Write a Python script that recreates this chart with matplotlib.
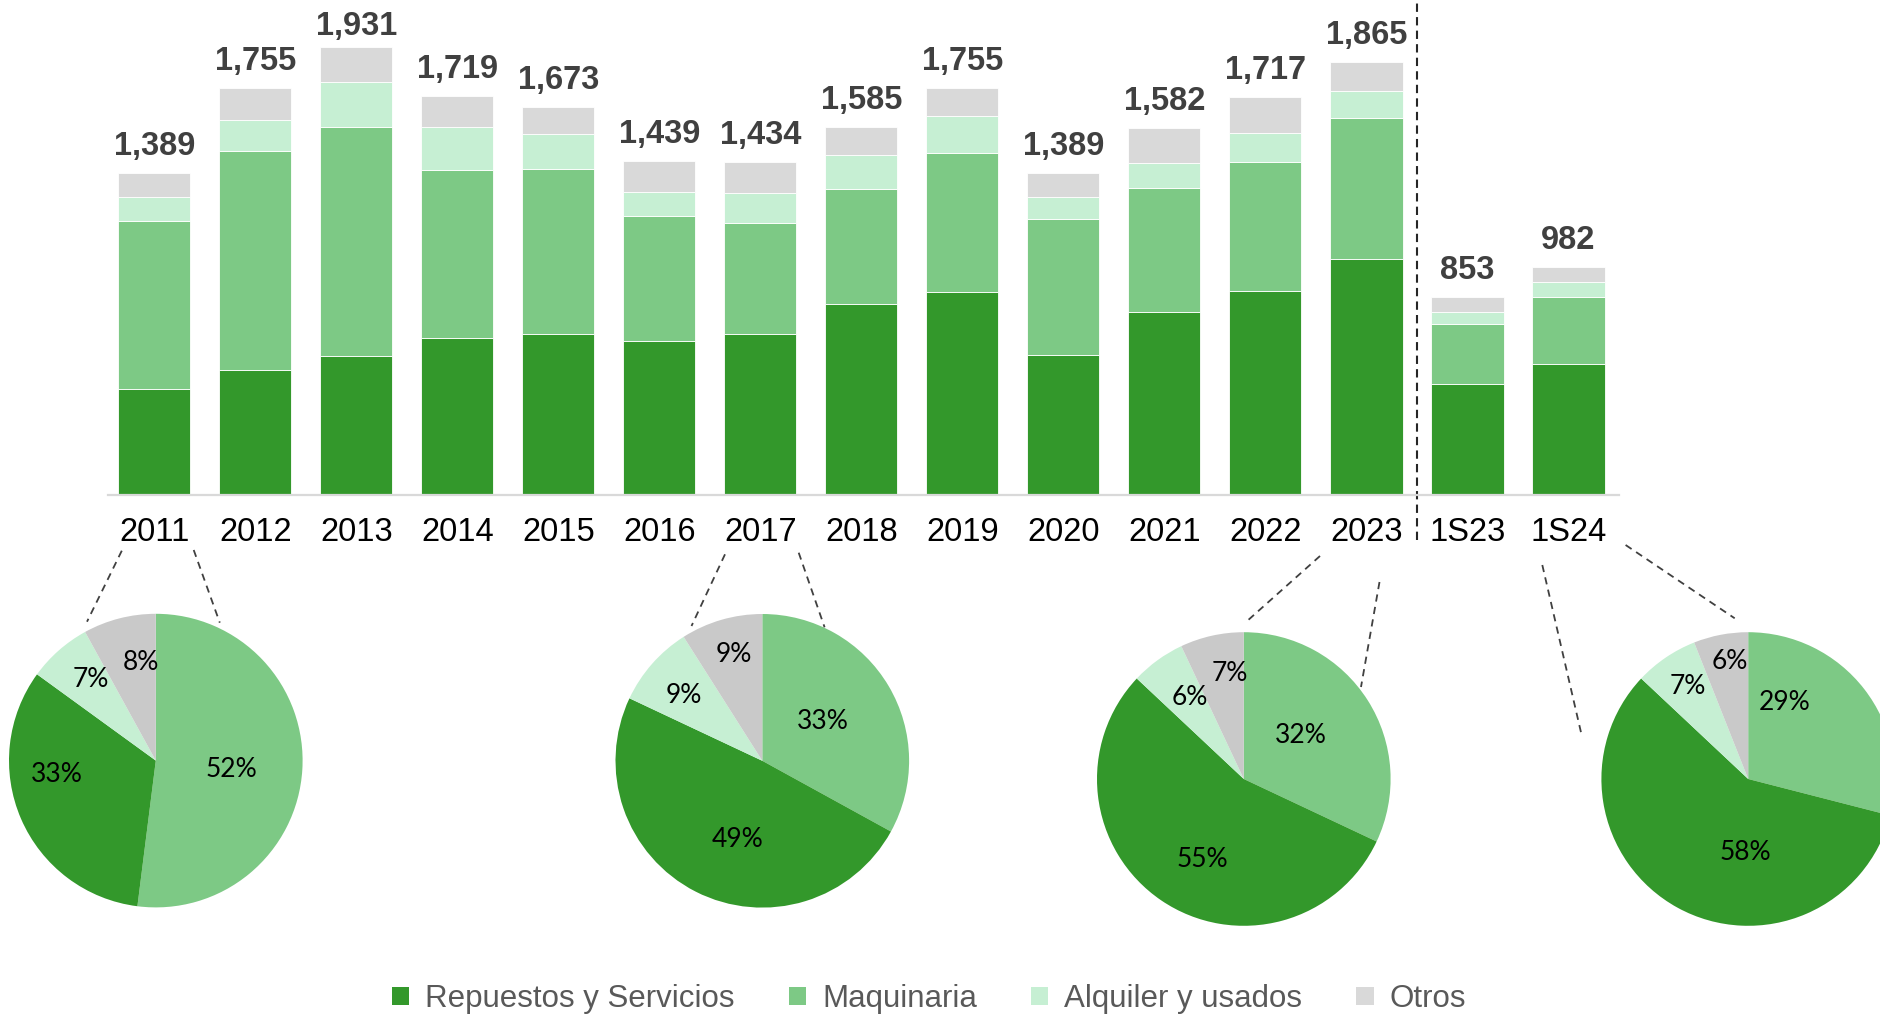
import matplotlib
matplotlib.use("Agg")
import matplotlib.pyplot as plt
from matplotlib.patches import Patch
from matplotlib.lines import Line2D
import numpy as np

# ---------------- data ----------------
categories = ['2011', '2012', '2013', '2014', '2015', '2016', '2017', '2018',
              '2019', '2020', '2021', '2022', '2023', '1S23', '1S24']
repuestos = [455, 538, 598, 678, 692, 666, 696, 825, 877, 602, 787, 881, 1018, 480, 566]
maquinaria = [726, 946, 988, 721, 715, 535, 477, 496, 598, 586, 535, 556, 608, 258, 287]
alquiler = [103, 133, 194, 188, 150, 107, 130, 145, 158, 98, 111, 123, 116, 52, 66]
otros = [105, 138, 151, 132, 116, 131, 131, 119, 122, 103, 149, 157, 123, 63, 63]
totals = [1389, 1755, 1931, 1719, 1673, 1439, 1434, 1585, 1755, 1389, 1582, 1717, 1865, 853, 982]

series_names = ['Repuestos y Servicios', 'Maquinaria', 'Alquiler y usados', 'Otros']

pie_periods = ['2011', '2017', '2023', '1S24']
# shares in pie order: Maquinaria, Repuestos, Alquiler, Otros
pie_maquinaria = [52, 33, 32, 29]
pie_repuestos = [33, 49, 55, 58]
pie_alquiler = [7, 9, 6, 7]
pie_otros = [8, 9, 7, 6]

# ---------------- style / layout ----------------
C_REP = '#33982B'
C_MAQ = '#7DC985'
C_ALQ = '#C6EFD3'
C_OTR = '#D9D9D9'
C_OTR_PIE = '#C9C9C9'
W, H = 1880, 1017

# label anchor offsets inside each pie (in units of radius), order Maq, Rep, Alq, Otros
pie_label_offsets = [
    [(0.516, -0.061), (-0.672, -0.094), (-0.443, 0.553), (-0.098, 0.668)],
    [(0.414, 0.266), (-0.168, -0.537), (-0.537, 0.447), (-0.193, 0.725)],
    [(0.389, 0.299), (-0.283, -0.545), (-0.365, 0.553), (-0.094, 0.717)],
    [(0.246, 0.520), (-0.016, -0.504), (-0.410, 0.627), (-0.123, 0.799)],
]

plt.rcParams['font.family'] = ['Liberation Sans', 'DejaVu Sans']

fig = plt.figure(figsize=(W / 100, H / 100), dpi=100)


def fx(x):
    return x / W


def fy(y):
    return 1 - y / H


# ---------------- bar chart ----------------
base_y = 495
ax = fig.add_axes([fx(108), fy(base_y), (1619 - 108) / W, base_y / H])
x = np.arange(len(categories))
bw = 0.713
ek = dict(edgecolor='white', linewidth=0.6)
b0 = np.zeros(len(categories))
ax.bar(x, repuestos, bw, bottom=b0, color=C_REP, **ek)
b1 = b0 + np.array(repuestos)
ax.bar(x, maquinaria, bw, bottom=b1, color=C_MAQ, **ek)
b2 = b1 + np.array(maquinaria)
ax.bar(x, alquiler, bw, bottom=b2, color=C_ALQ, **ek)
b3 = b2 + np.array(alquiler)
ax.bar(x, otros, bw, bottom=b3, color=C_OTR, **ek)

ymax = 2134
ax.set_xlim(-0.46, 14.5)
ax.set_ylim(0, ymax)
for s in ['top', 'right', 'left']:
    ax.spines[s].set_visible(False)
ax.spines['bottom'].set_color('#D9D9D9')
ax.spines['bottom'].set_linewidth(1.6)
ax.set_yticks([])
ax.set_xticks(x)
ax.set_xticklabels(categories, fontsize=23.5, color='black')
ax.tick_params(axis='x', length=0, pad=16)

for xi, t in zip(x, totals):
    ly = min(t + 78, 1983)
    ax.text(xi, ly, f'{t:,}', ha='center', va='baseline', fontsize=23.5,
            fontweight='bold', color='#404040')

# vertical separator between annual and half-year figures
ax.plot([12.5, 12.5], [-194, ymax], color='#262626', lw=1.5,
        dashes=(4, 2.5), clip_on=False)

# ---------------- pies ----------------
pie_centers = [(155.8, 760.6), (762.3, 760.8), (1243.8, 779.0), (1748.2, 779.0)]
R = 146.8
pie_colors = [C_MAQ, C_REP, C_ALQ, C_OTR_PIE]
pie_data = list(zip(pie_maquinaria, pie_repuestos, pie_alquiler, pie_otros))
for (cx, cy), shares, offs in zip(pie_centers, pie_data, pie_label_offsets):
    axp = fig.add_axes([fx(cx - R), fy(cy + R), 2 * R / W, 2 * R / H])
    wedges, _ = axp.pie(shares, colors=pie_colors, startangle=90,
                        counterclock=False, radius=1,
                        wedgeprops=dict(linewidth=0))
    axp.set_xlim(-1, 1)
    axp.set_ylim(-1, 1)
    for p, (dx, dy) in zip(shares, offs):
        axp.text(dx, dy, f'{p}%', ha='center', va='center', fontsize=19,
                 family=['Lato', 'DejaVu Sans'], color='black')

# connector lines (figure pixel coords)
connectors = [
    ((121.8, 550.7), (87.0, 621.7)),
    ((193.7, 550.0), (219.8, 622.7)),
    ((725.0, 554.3), (691.5, 626.0)),
    ((798.7, 552.7), (824.6, 627.3)),
    ((1320.0, 556.0), (1246.0, 622.0)),
    ((1379.5, 582.0), (1361.0, 687.0)),
    ((1542.3, 565.0), (1582.0, 736.7)),
    ((1625.6, 545.0), (1734.7, 618.3)),
]
for (x0, y0), (x1, y1) in connectors:
    fig.add_artist(Line2D([fx(x0), fx(x1)], [fy(y0), fy(y1)], color='#404040',
                          lw=1.3, dashes=(4, 3), transform=fig.transFigure))

# ---------------- legend ----------------
handles = [Patch(facecolor=c, edgecolor='none') for c in [C_REP, C_MAQ, C_ALQ, C_OTR]]
leg = fig.legend(handles, series_names, loc='center', bbox_to_anchor=(fx(929), fy(999)),
                 ncol=4, frameon=False, fontsize=22.5, handlelength=0.55,
                 handleheight=0.55, handletextpad=0.52, columnspacing=1.73,
                 borderpad=0)
for t in leg.get_texts():
    t.set_color('#595959')

fig.savefig('out.png', dpi=100)
